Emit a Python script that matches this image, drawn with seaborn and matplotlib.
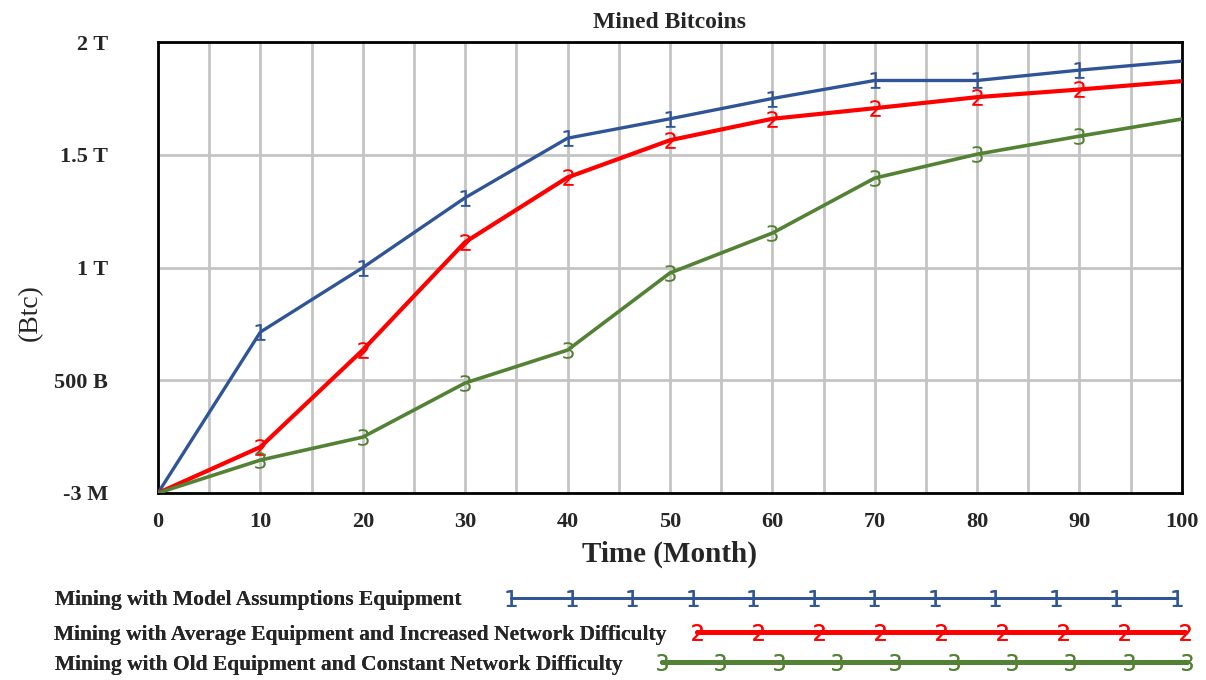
import numpy as np
import pandas as pd
import matplotlib
matplotlib.use('Agg')
import matplotlib.pyplot as plt
from matplotlib.lines import Line2D
import seaborn as sns

# Data (values in trillions of Btc)
months = [0, 10, 20, 30, 40, 50, 60, 70, 80, 90, 100]
model_assumptions = [0.0, 0.714, 1.0, 1.31, 1.574, 1.66, 1.75, 1.83, 1.83, 1.876, 1.916]
average_equipment = [0.0, 0.204, 0.634, 1.113, 1.40, 1.565, 1.66, 1.707, 1.756, 1.79, 1.827]
old_equipment = [0.0, 0.146, 0.248, 0.488, 0.634, 0.976, 1.153, 1.397, 1.503, 1.583, 1.659]

series_names = [
    "Mining with Model Assumptions Equipment",
    "Mining with Average Equipment and Increased Network Difficulty",
    "Mining with Old Equipment and Constant Network Difficulty",
]
series_colors = ["#2f5597", "#ff0000", "#548235"]
series_markers = ["$1$", "$2$", "$3$"]
series_widths = [2.4, 3.0, 2.6]

ytick_vals = [-3e6, 5e11, 1e12, 1.5e12, 2e12]
ytick_labels = ["-3 M", "500 B", "1 T", "1.5 T", "2 T"]
xtick_vals = [0, 10, 20, 30, 40, 50, 60, 70, 80, 90, 100]

df = pd.DataFrame({
    "month": months * 3,
    "btc": np.array(model_assumptions + average_equipment + old_equipment) * 1e12,
    "series": np.repeat(series_names, len(months)),
})

sns.set_style("white")
plt.rcParams['font.family'] = ['Liberation Serif', 'DejaVu Serif']

fig = plt.figure(figsize=(12.06, 6.8), dpi=100)
ax = fig.add_axes([0.131, 0.275, 0.849, 0.663])

for name, color, mk, lw in zip(series_names, series_colors, series_markers, series_widths):
    sub = df[df["series"] == name]
    sns.lineplot(data=sub, x="month", y="btc", ax=ax, color=color, linewidth=lw,
                 marker=mk, markersize=12, markeredgewidth=0, markerfacecolor=color,
                 markevery=slice(1, 10), legend=False, zorder=3)

ax.set_xlim(0, 100)
ax.set_ylim(-3e6, 2e12)
ax.set_xticks(xtick_vals)
ax.set_xticks(np.arange(0, 101, 5), minor=True)
ax.set_xticklabels([str(v) for v in xtick_vals], fontsize=16, fontweight='bold')
ax.set_yticks(ytick_vals)
ax.set_yticklabels(ytick_labels, fontsize=16, fontweight='bold')
ax.tick_params(axis='y', length=0, pad=36)
ax.tick_params(axis='x', which='both', length=0, pad=14)
ax.grid(True, which='both', axis='x', color='#c4c4c4', linewidth=2)
ax.grid(True, which='major', axis='y', color='#c4c4c4', linewidth=2)
for sp in ax.spines.values():
    sp.set_visible(True)
    sp.set_color('black')
    sp.set_linewidth(2)

ax.set_title("Mined Bitcoins", fontsize=17, fontweight='bold', pad=10)
ax.set_xlabel("Time (Month)", fontsize=21, fontweight='bold', labelpad=6)
ax.set_ylabel("(Btc)", fontsize=20, labelpad=10)
ax.yaxis.set_label_coords(-0.112, 0.4)

# Legend rows: text on the left, line sample with numbered markers on the right
# (anchor x, anchor top y, handle length, number of markers, line width, text pad)
legend_rows = [
    (0.046, 0.132, 31.5, 12, 2.0, 2.0),
    (0.045, 0.081, 23.3, 9, 3.5, 1.1),
    (0.046, 0.037, 25.0, 10, 3.5, 1.5),
]
for (name, color, mk), (x0, y0, hl, npts, lw, pad) in zip(
        zip(series_names, series_colors, series_markers), legend_rows):
    h = Line2D([], [], color=color, linewidth=lw, marker=mk, markersize=12,
               markeredgewidth=0, markerfacecolor=color)
    leg = fig.legend([h], [name], loc='upper left', bbox_to_anchor=(x0, y0),
                     frameon=False, markerfirst=False, handlelength=hl, numpoints=npts,
                     handletextpad=pad, borderaxespad=0, borderpad=0,
                     prop={'family': 'Liberation Serif', 'weight': 'bold', 'size': 15.5})
    fig.add_artist(leg)

fig.savefig("out.png", dpi=100)
